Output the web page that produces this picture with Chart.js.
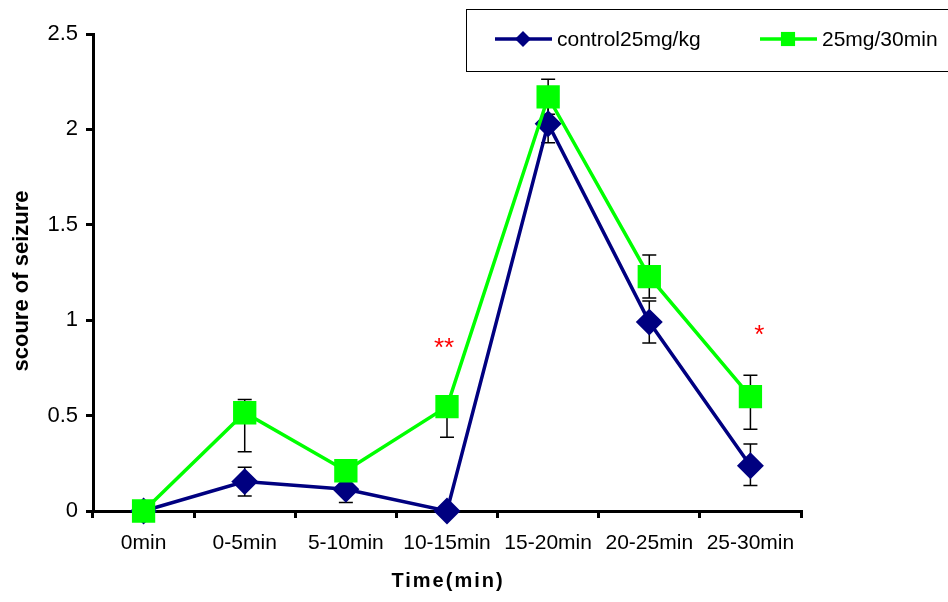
<!DOCTYPE html>
<html>
<head>
<meta charset="utf-8">
<script src="https://cdn.jsdelivr.net/npm/chart.js@4/dist/chart.umd.min.js"></script>
<style>
  html, body { margin: 0; padding: 0; background: #fff; }
  #wrap { width: 948px; height: 602px; position: relative; }
</style>
</head>
<body>
<div id="wrap"><canvas id="seizure"></canvas></div>
<script>
const categories = ['0min', '0-5min', '5-10min', '10-15min', '15-20min', '20-25min', '25-30min']

const controlValues = [0, 0.154, 0.114, 0, 2.03, 0.99, 0.237]
const controlErrUp = [0, 0.075, 0.07, 0, 0.1, 0.11, 0.114]
const controlErrDown = [0, 0.075, 0.07, 0, 0.1, 0.11, 0.104]

const treatedValues = [0, 0.515, 0.211, 0.547, 2.17, 1.228, 0.599]
const treatedErrUp = [0, 0.07, 0.05, 0.03, 0.093, 0.114, 0.112]
const treatedErrDown = [0, 0.205, 0.05, 0.16, 0.09, 0.112, 0.17]

const starLabels = ['', '', '', '**', '', '', '*']
const starValues = [0, 0, 0, 0.886, 0, 0, 0.954]
const starShift = [0, 0, 0, -3, 0, 0, 9]

const yTicks = [0, 0.5, 1, 1.5, 2, 2.5]

const font = 'Arial, "Liberation Sans", sans-serif'
const navy = '#000080'
const green = '#00FF00'

const errorSets = [
  { values: controlValues, up: controlErrUp, down: controlErrDown },
  { values: treatedValues, up: treatedErrUp, down: treatedErrDown },
]

const errorBars = {
  id: 'errorBars',
  beforeDatasetsDraw(chart) {
    const { ctx, scales: { x, y } } = chart
    ctx.save()
    ctx.strokeStyle = '#000'
    ctx.lineWidth = 1.5
    errorSets.forEach(set => {
      set.values.forEach((v, i) => {
        if (!set.up[i] && !set.down[i]) return
        const px = x.getPixelForValue(i)
        const top = y.getPixelForValue(v + set.up[i])
        const bottom = y.getPixelForValue(v - set.down[i])
        ctx.beginPath()
        ctx.moveTo(px, top)
        ctx.lineTo(px, bottom)
        ctx.moveTo(px - 7, top)
        ctx.lineTo(px + 7, top)
        ctx.moveTo(px - 7, bottom)
        ctx.lineTo(px + 7, bottom)
        ctx.stroke()
      })
    })
    ctx.restore()
  },
}

const extras = {
  id: 'extras',
  afterDraw(chart) {
    const { ctx, scales: { x, y } } = chart
    ctx.save()
    // significance stars
    ctx.fillStyle = '#FF0000'
    ctx.font = `26px ${font}`
    ctx.textAlign = 'center'
    ctx.textBaseline = 'alphabetic'
    starLabels.forEach((s, i) => {
      if (!s) return
      ctx.fillText(s, x.getPixelForValue(i) + starShift[i], y.getPixelForValue(starValues[i]) + 14)
    })

    // axis titles
    ctx.fillStyle = '#000'
    ctx.font = `bold 20px ${font}`
    ctx.letterSpacing = '2px'
    ctx.textBaseline = 'middle'
    ctx.fillText('Time(min)', (chart.chartArea.left + chart.chartArea.right) / 2 + 1, 581)
    ctx.letterSpacing = '0px'

    ctx.save()
    ctx.translate(22, 281)
    ctx.rotate(-Math.PI / 2)
    ctx.font = `bold 22px ${font}`
    ctx.fillText('scoure of seizure', 0, 0)
    ctx.restore()

    // legend box
    ctx.strokeStyle = '#000'
    ctx.lineWidth = 1
    ctx.strokeRect(466.5, 9.5, 500, 62)
    ctx.font = `21px ${font}`
    ctx.textAlign = 'left'
    const items = [
      { x: 495, ds: chart.data.datasets[0] },
      { x: 760, ds: chart.data.datasets[1] },
    ]
    items.forEach(({ x: lx, ds }) => {
      ctx.strokeStyle = ds.borderColor
      ctx.lineWidth = ds.borderWidth
      ctx.beginPath()
      ctx.moveTo(lx, 39)
      ctx.lineTo(lx + 57, 39)
      ctx.stroke()
      ctx.fillStyle = ds.pointBackgroundColor
      ctx.strokeStyle = ds.pointBorderColor
      Chart.helpers.drawPoint(ctx, { pointStyle: ds.pointStyle, rotation: 0, borderWidth: 0, radius: ds.legendRadius }, lx + 28, 39)
      ctx.fillStyle = '#000'
      ctx.fillText(ds.label, lx + 62, 40)
    })
    ctx.restore()
  },
}

new Chart(document.querySelector('#seizure'), {
  type: 'line',
  data: {
    labels: categories,
    datasets: [
      {
        label: 'control25mg/kg',
        data: controlValues,
        borderColor: navy,
        backgroundColor: navy,
        pointBackgroundColor: navy,
        pointBorderColor: navy,
        pointStyle: 'rectRot',
        pointRadius: 11,
        legendRadius: 8,
        borderWidth: 3.5,
        tension: 0,
        clip: false,
        order: 2,
      },
      {
        label: '25mg/30min',
        data: treatedValues,
        borderColor: green,
        backgroundColor: green,
        pointBackgroundColor: green,
        pointBorderColor: green,
        pointStyle: 'rect',
        pointRadius: 14,
        legendRadius: 10,
        borderWidth: 3.5,
        tension: 0,
        clip: false,
        order: 1,
      },
    ],
  },
  options: {
    responsive: true,
    maintainAspectRatio: false,
    animation: false,
    layout: { padding: { left: 0, right: 147, top: 34, bottom: 0 } },
    plugins: {
      legend: { display: false },
      tooltip: { enabled: false },
    },
    scales: {
      x: {
        type: 'category',
        offset: true,
        border: { display: true, color: '#000', width: 3 },
        grid: { offset: true, drawOnChartArea: false, color: '#000', tickLength: 7, lineWidth: 3 },
        ticks: { color: '#000', font: { family: font, size: 21 }, padding: 13, maxRotation: 0, autoSkip: false },
        afterFit: scale => { scale.height = 91 },
      },
      y: {
        min: 0,
        max: 2.5,
        afterBuildTicks: scale => { scale.ticks = yTicks.map(value => ({ value })) },
        border: { display: true, color: '#000', width: 3 },
        grid: { drawOnChartArea: false, color: '#000', tickLength: 7, lineWidth: 3 },
        ticks: {
          color: '#000',
          font: { family: font, size: 22 },
          padding: 8,
          callback: value => String(value),
        },
        afterFit: scale => { scale.width = 93 },
      },
    },
  },
  plugins: [errorBars, extras],
})
</script>
</body>
</html>
